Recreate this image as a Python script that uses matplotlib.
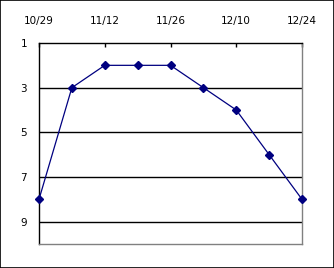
import matplotlib
matplotlib.use("Agg")
import matplotlib.pyplot as plt
import matplotlib.dates as mdates
import pandas as pd

dates = ["2008-10-29", "2008-11-05", "2008-11-12", "2008-11-19", "2008-11-26",
         "2008-12-03", "2008-12-10", "2008-12-17", "2008-12-24"]
values = [8, 3, 2, 2, 2, 3, 4, 6, 8]
tick_dates = ["2008-10-29", "2008-11-12", "2008-11-26", "2008-12-10", "2008-12-24"]
y_ticks = [1, 3, 5, 7, 9]

x = pd.to_datetime(dates)
xt = pd.to_datetime(tick_dates)

fig = plt.figure(figsize=(3.34, 2.68), dpi=100)
fig.patch.set_facecolor("white")
fig.patches.append(plt.Rectangle((0, 0), 1, 1, transform=fig.transFigure,
                                 fill=False, edgecolor="black", linewidth=1.2))
ax = fig.add_axes([39/334, 1 - 244/268, 263/334, 201/268])

for yv in y_ticks[1:]:
    ax.axhline(yv, color="black", linewidth=1.0, zorder=1)

ax.plot(x, values, color="#000080", linewidth=0.9, marker="D", markersize=4.5,
        markerfacecolor="#000080", markeredgecolor="#000080", clip_on=False, zorder=3)

ax.set_xlim(xt[0], xt[-1])
ax.set_ylim(10, 1)
ax.set_yticks(y_ticks)
ax.set_xticks(xt)
ax.xaxis.set_major_formatter(mdates.DateFormatter("%m/%d"))
ax.xaxis.tick_top()
ax.tick_params(axis="x", direction="in", length=3, width=1, pad=12, labelsize=7.5, colors="black")
ax.tick_params(axis="y", length=0, pad=8.5, labelsize=7.5)

ax.spines["top"].set_color("black")
ax.spines["left"].set_color("black")
ax.spines["right"].set_color("#808080")
ax.spines["bottom"].set_color("#808080")
for s in ax.spines.values():
    s.set_linewidth(1.0)

fig.savefig("out.png", dpi=100)
